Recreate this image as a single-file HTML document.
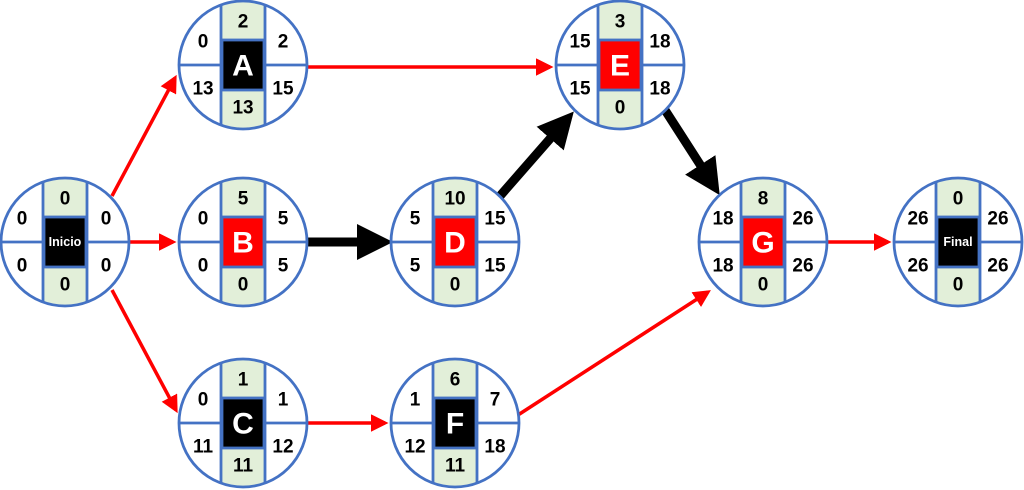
<!DOCTYPE html>
<html><head><meta charset="utf-8"><style>
html,body{margin:0;padding:0;background:#fff;width:1024px;height:490px;overflow:hidden}
svg{display:block}
text{font-family:"Liberation Sans",Arial,sans-serif;font-weight:bold;text-anchor:middle;dominant-baseline:central}
.n{font-size:19px;fill:#000}
.l{font-size:30px;fill:#fff}
.s{font-size:12.5px;fill:#fff}
</style></head><body>
<svg width="1024" height="490" viewBox="0 0 1024 490">
<defs>
<clipPath id="cp"><circle cx="0" cy="0" r="64"/></clipPath>
<g id="base">
<circle cx="0" cy="0" r="64" fill="#fff"/>
<g clip-path="url(#cp)">
<rect x="-22" y="-70" width="44" height="140" fill="#e2efd9"/>
<line x1="-22" y1="-70" x2="-22" y2="70" stroke="#4472c4" stroke-width="2.8"/>
<line x1="22" y1="-70" x2="22" y2="70" stroke="#4472c4" stroke-width="2.8"/>
<line x1="-70" y1="0" x2="-22" y2="0" stroke="#4472c4" stroke-width="2.8"/>
<line x1="22" y1="0" x2="70" y2="0" stroke="#4472c4" stroke-width="2.8"/>
</g>
<circle cx="0" cy="0" r="64" fill="none" stroke="#4472c4" stroke-width="2.8"/>
</g>
<g id="bk"><rect x="-21" y="-25" width="42" height="50" fill="#000" stroke="#4472c4" stroke-width="2.8"/></g>
<g id="rd"><rect x="-21" y="-25" width="42" height="50" fill="#ff0000" stroke="#4472c4" stroke-width="2.8"/></g>
<marker id="ar" markerWidth="5" markerHeight="5" refX="4" refY="2.5" orient="auto" markerUnits="strokeWidth"><path d="M0,0 L5,2.5 L0,5 z" fill="#ff0000"/></marker>
<marker id="ab" markerWidth="4" markerHeight="4" refX="2" refY="2" orient="auto" markerUnits="strokeWidth"><path d="M0,0 L4,2 L0,4 z" fill="#000"/></marker>
</defs>

<g stroke="#ff0000" stroke-width="3.5" fill="none" marker-end="url(#ar)">
<line x1="112" y1="196" x2="175" y2="78"/>
<line x1="130" y1="242" x2="173" y2="242"/>
<line x1="112" y1="290" x2="176" y2="410"/>
<line x1="308" y1="67" x2="550" y2="67"/>
<line x1="308" y1="423" x2="385" y2="423"/>
<line x1="518" y1="415" x2="708" y2="292"/>
<line x1="828" y1="242" x2="888" y2="242"/>
</g>
<g stroke="#000" stroke-width="9" fill="none" marker-end="url(#ab)">
<line x1="308" y1="242" x2="375" y2="242"/>
<line x1="500" y1="196" x2="562" y2="125"/>
<line x1="665" y1="110" x2="710" y2="180"/>
</g>

<g transform="translate(65,242)"><use href="#base"/><use href="#bk"/>
<text class="s" x="0" y="0">Inicio</text>
<text class="n" x="0" y="-43">0</text><text class="n" x="0" y="43">0</text>
<text class="n" x="-43" y="-23">0</text><text class="n" x="-43" y="24">0</text>
<text class="n" x="41" y="-23">0</text><text class="n" x="41" y="24">0</text></g>

<g transform="translate(243,65)"><use href="#base"/><use href="#bk"/>
<text class="l" x="0" y="1">A</text>
<text class="n" x="0" y="-43">2</text><text class="n" x="0" y="43">13</text>
<text class="n" x="-40" y="-23">0</text><text class="n" x="-40" y="24">13</text>
<text class="n" x="40" y="-23">2</text><text class="n" x="40" y="24">15</text></g>

<g transform="translate(243,242)"><use href="#base"/><use href="#rd"/>
<text class="l" x="0" y="1">B</text>
<text class="n" x="0" y="-43">5</text><text class="n" x="0" y="43">0</text>
<text class="n" x="-40" y="-23">0</text><text class="n" x="-40" y="24">0</text>
<text class="n" x="40" y="-23">5</text><text class="n" x="40" y="24">5</text></g>

<g transform="translate(243,423)"><use href="#base"/><use href="#bk"/>
<text class="l" x="0" y="1">C</text>
<text class="n" x="0" y="-43">1</text><text class="n" x="0" y="43">11</text>
<text class="n" x="-40" y="-23">0</text><text class="n" x="-40" y="24">11</text>
<text class="n" x="40" y="-23">1</text><text class="n" x="40" y="24">12</text></g>

<g transform="translate(455,242)"><use href="#base"/><use href="#rd"/>
<text class="l" x="0" y="1">D</text>
<text class="n" x="0" y="-43">10</text><text class="n" x="0" y="43">0</text>
<text class="n" x="-40" y="-23">5</text><text class="n" x="-40" y="24">5</text>
<text class="n" x="40" y="-23">15</text><text class="n" x="40" y="24">15</text></g>

<g transform="translate(455,423)"><use href="#base"/><use href="#bk"/>
<text class="l" x="0" y="1">F</text>
<text class="n" x="0" y="-43">6</text><text class="n" x="0" y="43">11</text>
<text class="n" x="-40" y="-23">1</text><text class="n" x="-40" y="24">12</text>
<text class="n" x="40" y="-23">7</text><text class="n" x="40" y="24">18</text></g>

<g transform="translate(620,65)"><use href="#base"/><use href="#rd"/>
<text class="l" x="0" y="1">E</text>
<text class="n" x="0" y="-43">3</text><text class="n" x="0" y="43">0</text>
<text class="n" x="-40" y="-23">15</text><text class="n" x="-40" y="24">15</text>
<text class="n" x="40" y="-23">18</text><text class="n" x="40" y="24">18</text></g>

<g transform="translate(763,242)"><use href="#base"/><use href="#rd"/>
<text class="l" x="0" y="1">G</text>
<text class="n" x="0" y="-43">8</text><text class="n" x="0" y="43">0</text>
<text class="n" x="-40" y="-23">18</text><text class="n" x="-40" y="24">18</text>
<text class="n" x="40" y="-23">26</text><text class="n" x="40" y="24">26</text></g>

<g transform="translate(958,242)"><use href="#base"/><use href="#bk"/>
<text class="s" x="0" y="0">Final</text>
<text class="n" x="0" y="-43">0</text><text class="n" x="0" y="43">0</text>
<text class="n" x="-40" y="-23">26</text><text class="n" x="-40" y="24">26</text>
<text class="n" x="40" y="-23">26</text><text class="n" x="40" y="24">26</text></g>
</svg>
</body></html>
